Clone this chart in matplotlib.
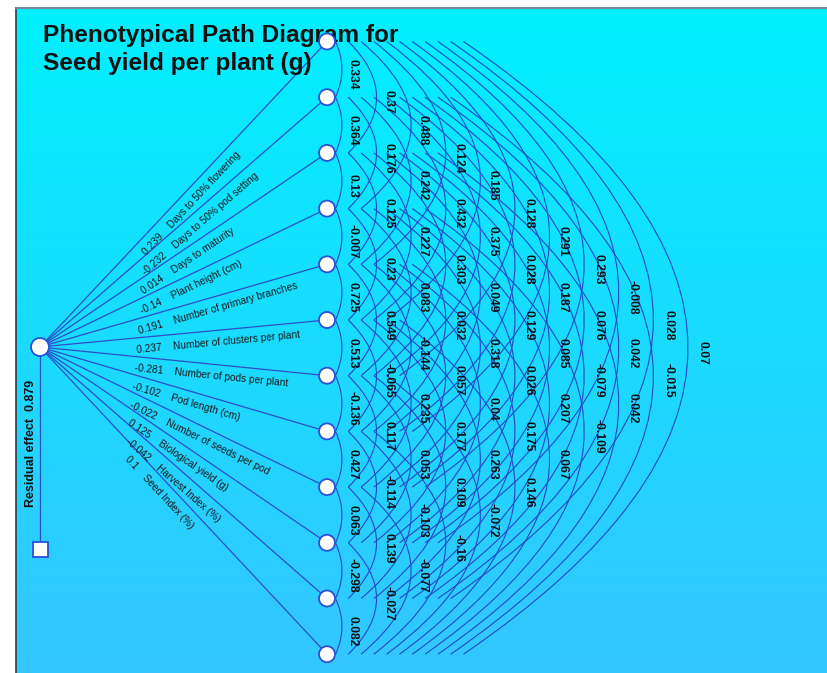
import numpy as np
import matplotlib.pyplot as plt
from matplotlib.patches import Circle, Rectangle, PathPatch
from matplotlib.path import Path

plt.rcParams['font.family'] = ['Liberation Sans', 'DejaVu Sans']

# traits and their direct effects on seed yield
traits = ["Days to 50% flowering", "Days to 50% pod setting", "Days to maturity",
          "Plant height (cm)", "Number of primary branches", "Number of clusters per plant",
          "Number of pods per plant", "Pod length (cm)", "Number of seeds per pod",
          "Biological yield (g)", "Harvest Index (%)", "Seed Index (%)"]
direct = [0.239, -0.232, 0.014, -0.14, 0.191, 0.237, -0.281, -0.102, -0.022, 0.125, -0.042, 0.1]
residual = 0.879

# correlations, read along each diagonal (gap = distance between the two traits)
gap1 = [0.334, 0.364, 0.13, -0.007, 0.725, 0.513, -0.136, 0.427, 0.063, -0.298, 0.082]
gap2 = [0.37, 0.176, 0.125, 0.23, 0.549, -0.065, 0.117, -0.114, 0.139, -0.027]
gap3 = [0.488, 0.242, 0.227, 0.083, -0.144, 0.235, 0.053, -0.103, -0.077]
gap4 = [0.124, 0.432, 0.303, 0.032, 0.057, 0.177, 0.109, -0.16]
gap5 = [0.185, 0.375, 0.049, 0.318, 0.04, 0.263, -0.072]
gap6 = [0.128, 0.028, 0.129, 0.026, 0.175, 0.146]
gap7 = [0.291, 0.187, 0.085, 0.207, 0.067]
gap8 = [0.293, 0.076, -0.079, -0.109]
gap9 = [-0.008, 0.042, 0.042]
gap10 = [0.028, -0.015]
gap11 = [0.07]
corr_gaps = [gap1, gap2, gap3, gap4, gap5, gap6, gap7, gap8, gap9, gap10, gap11]

W, H = 827, 673
fig = plt.figure(figsize=(W / 100, H / 100), dpi=100)
ax = fig.add_axes([0, 0, 1, 1])

# background gradient
top = np.array([0, 240, 255]) / 255
bot = np.array([52, 198, 255]) / 255
g = np.linspace(0, 1, 256)[:, None, None]
ax.imshow(top * (1 - g) + bot * g, extent=[16, W, H, 8], aspect='auto', zorder=0)
ax.plot([16, 16], [8, H], color='#3a3a3a', lw=1.2, zorder=1)
ax.plot([16, W], [8, 8], color='#7a8a96', lw=1.5, zorder=1)
ax.set_xlim(0, W)
ax.set_ylim(H, 0)
ax.axis('off')

line_c = '#2a4fc8'
arc_c = '#2048c8'
node_ec = '#2a50d8'

node_x = 327
ny = 41.5 + 55.7 * np.arange(len(traits))
sx, sy = 40, 347

# paths from the yield node to every trait
for i in range(len(traits)):
    ax.plot([sx, node_x], [sy, ny[i]], color=line_c, lw=0.9, zorder=2)
    dx, dy = node_x - sx, ny[i] - sy
    L = np.hypot(dx, dy)
    ux, uy = dx / L, dy / L
    px = sx + dx / 3 - uy * 12
    py = sy + dy / 3 + ux * 12
    ang = np.degrees(np.arctan2(-dy, dx))
    ax.text(px, py, f"{direct[i]}    {traits[i]}", rotation=ang, rotation_mode='anchor',
            ha='left', va='center', fontsize=7.3, color='#1a1a1a', zorder=3)

# correlation arcs
for k, vals in enumerate(corr_gaps, start=1):
    e = 12.8 * k - 4.3
    p = 15 + 34.6 * (k - 1)
    lx = 318 + 35 * k
    for m, v in enumerate(vals):
        y1, y2 = ny[m], ny[m + k]
        ym = (y1 + y2) / 2
        verts = [(node_x + e, y1), (node_x + 2 * p - e, ym), (node_x + e, y2)]
        path = Path(verts, [Path.MOVETO, Path.CURVE3, Path.CURVE3])
        ax.add_patch(PathPatch(path, fill=False, ec=arc_c, lw=0.8, zorder=2))
        ax.text(lx, ym + 5, str(v), rotation=270, ha='center', va='center',
                fontsize=8.7, fontweight='bold', color='#111111', zorder=4)

for y in ny:
    ax.add_patch(Circle((node_x, y), 8, fc='white', ec=node_ec, lw=1.3, zorder=5))

# yield node and residual
ax.plot([sx, sx], [sy, 549], color=line_c, lw=0.9, zorder=2)
ax.add_patch(Circle((sx, sy), 9, fc='white', ec=node_ec, lw=1.3, zorder=5))
ax.add_patch(Rectangle((sx - 7.5, 541.5), 15, 15, fc='white', ec=node_ec, lw=1.3, zorder=5))
ax.text(31.5, 443, f"Residual effect  {residual}", rotation=90, ha='center', va='center',
        fontsize=9, fontweight='bold', color='#111111', zorder=3)

# title
ax.text(43, 42, "Phenotypical Path Diagram for", fontsize=17.6, fontweight='bold',
        color='#111111', va='baseline', zorder=3)
ax.text(43, 70, "Seed yield per plant (g)", fontsize=17.6, fontweight='bold',
        color='#111111', va='baseline', zorder=3)

fig.savefig('out.png', dpi=100, facecolor='white')
